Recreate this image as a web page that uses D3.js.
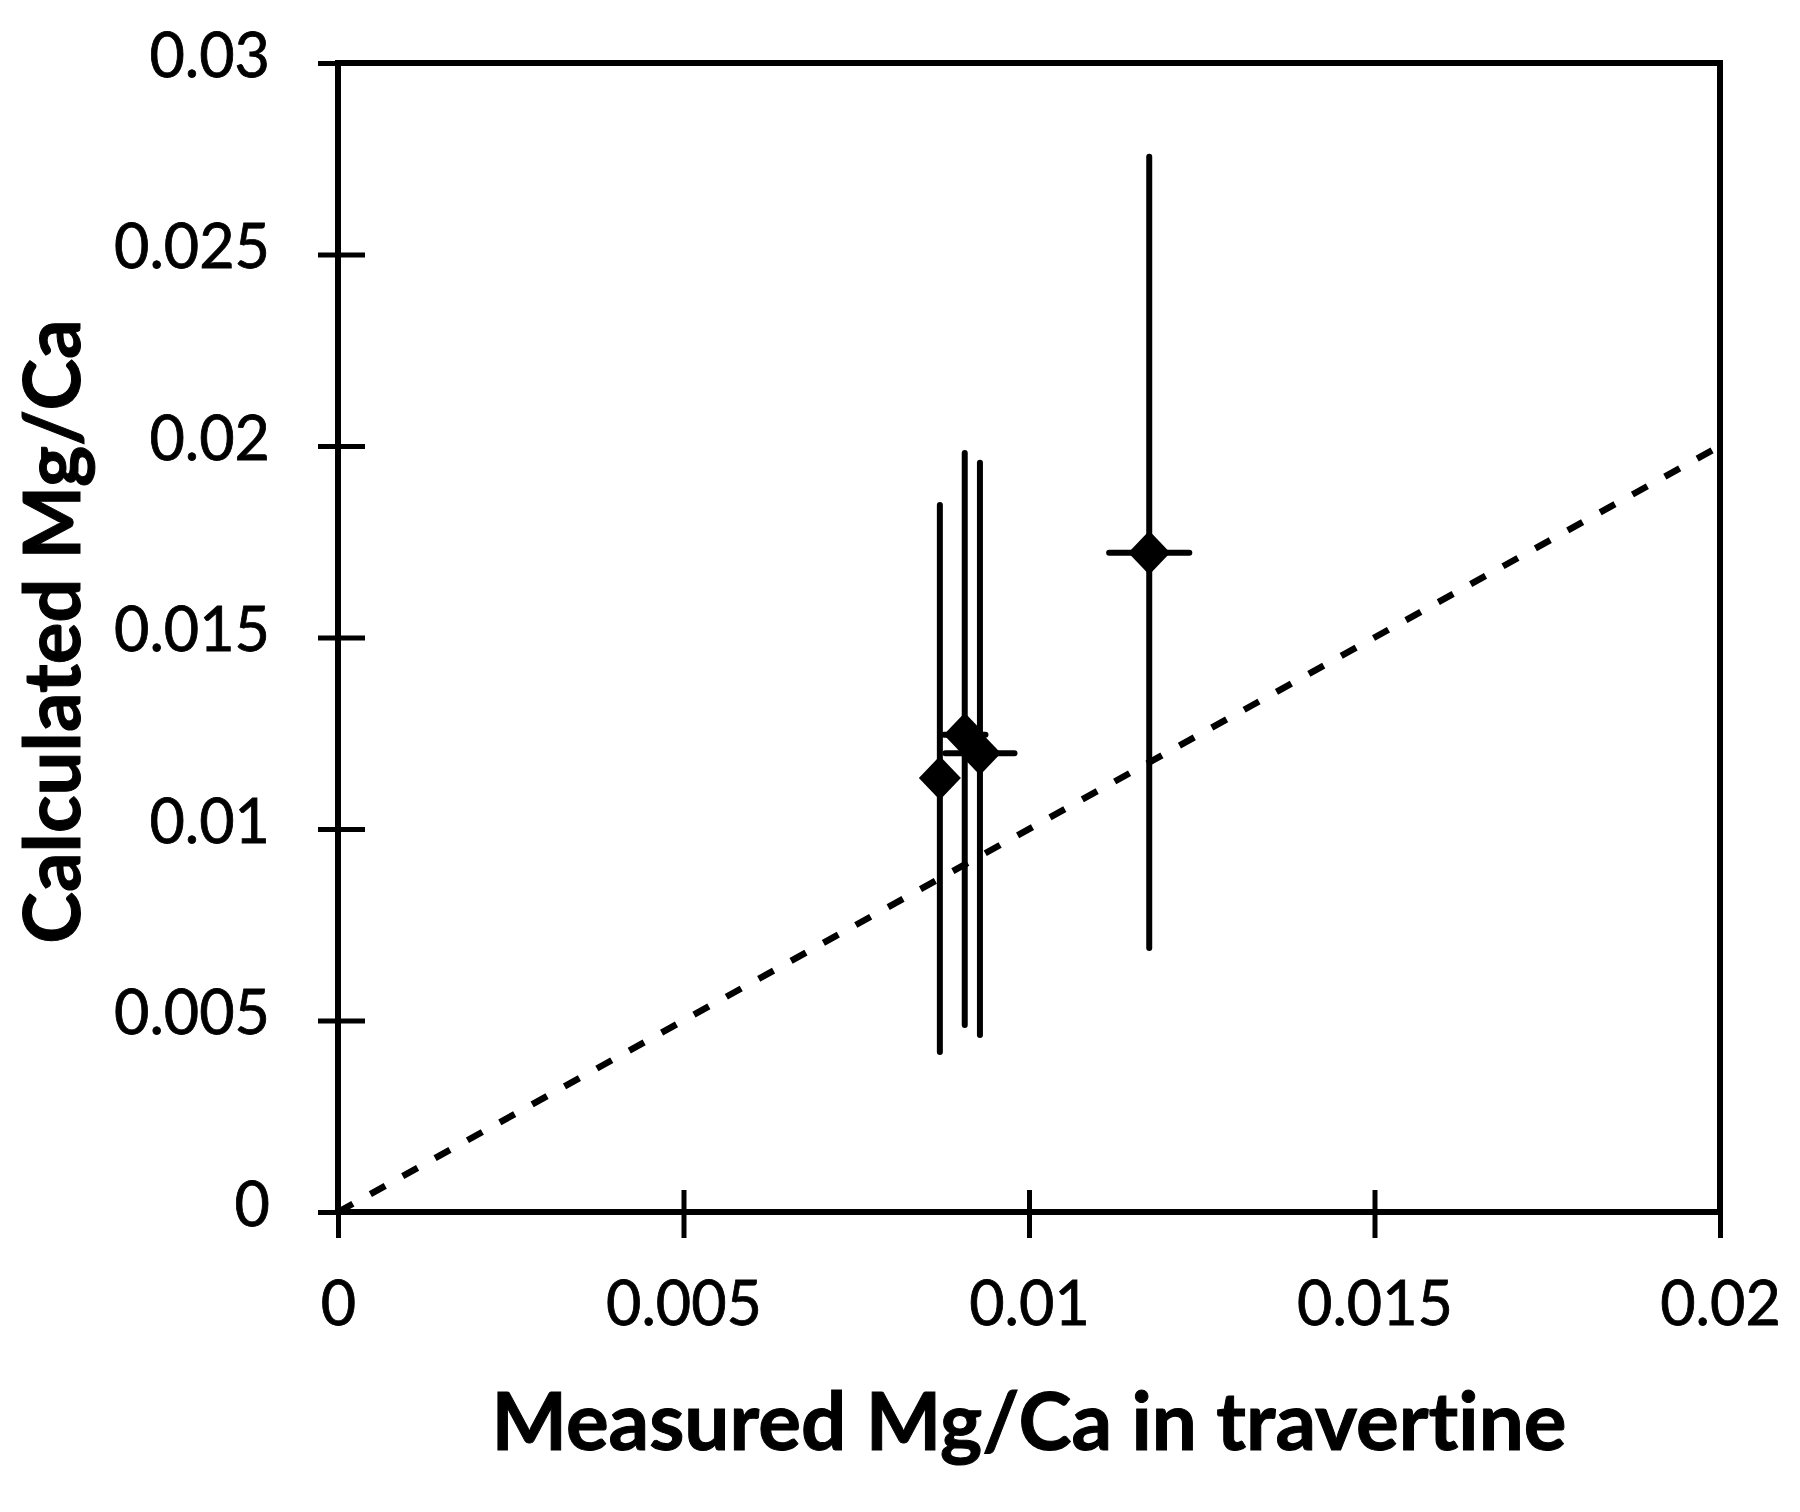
<!DOCTYPE html>
<html>
<head>
<meta charset="utf-8">
<script src="https://cdn.jsdelivr.net/npm/d3@7"></script>
<style>
  body { margin: 0; background: #fff; }
  svg { display: block; }
  text { font-family: Lato, "Open Sans", sans-serif; fill: #000; font-variant-ligatures: none; }
</style>
</head>
<body>
<svg id="chart"></svg>
<script>
// measured vs calculated Mg/Ca
const measured = [0.00871, 0.00907, 0.00929, 0.01174]
const calculated = [0.01133, 0.01246, 0.01198, 0.01721]
const calcLow = [0.00418, 0.00488, 0.00462, 0.00689]
const calcHigh = [0.01846, 0.01982, 0.01956, 0.02755]
const measuredErr = [0.0002, 0.0003, 0.0005, 0.00058]

const xTicks = [0, 0.005, 0.01, 0.015, 0.02]
const yTicks = [0, 0.005, 0.01, 0.015, 0.02, 0.025, 0.03]
const oneToOne = [0, 0.02]

const width = 1800, height = 1512
const margin = {top: 63, right: 80, bottom: 300, left: 338}
const w = width - margin.left - margin.right
const h = height - margin.top - margin.bottom

const svg = d3.select('#chart')
    .attr('width', width)
    .attr('height', height)

const g = svg.append('g')
    .attr('transform', `translate(${margin.left},${margin.top})`)

const x = d3.scaleLinear().domain([0, 0.02]).range([0, w])
const y = d3.scaleLinear().domain([0, 0.03]).range([h, 0])

const fmt = d => d === 0 ? '0' : String(+d.toFixed(3))

// axes
const xAxis = g.append('g')
    .attr('transform', `translate(0,${h})`)
    .call(d3.axisBottom(x).tickValues(xTicks).tickFormat(fmt).tickSize(26))
xAxis.select('.domain').remove()
xAxis.selectAll('line')
    .attr('y1', -22)
    .attr('stroke', '#000')
    .attr('stroke-width', 5)
xAxis.selectAll('text')
    .attr('font-size', 61)
    .attr('stroke', '#000')
    .attr('stroke-width', 0.8)
    .attr('dy', 0)
    .attr('y', 113)

const yAxis = g.append('g')
    .call(d3.axisLeft(y).tickValues(yTicks).tickFormat(fmt).tickSize(20))
yAxis.select('.domain').remove()
yAxis.selectAll('line')
    .attr('x1', 27)
    .attr('stroke', '#000')
    .attr('stroke-width', 5)
yAxis.selectAll('text')
    .attr('font-size', 61)
    .attr('stroke', '#000')
    .attr('stroke-width', 0.8)
    .attr('x', -68)
    .attr('dy', '0.22em')

// frame
g.append('rect')
    .attr('x', 0).attr('y', 0)
    .attr('width', w).attr('height', h)
    .attr('fill', 'none')
    .attr('stroke', '#000')
    .attr('stroke-width', 6)

// 1:1 line
g.append('line')
    .attr('x1', x(oneToOne[0])).attr('y1', y(oneToOne[0]))
    .attr('x2', x(oneToOne[1])).attr('y2', y(oneToOne[1]))
    .attr('stroke', '#000')
    .attr('stroke-width', 6.5)
    .attr('stroke-dasharray', '17 20')

const points = measured.map((m, i) => ({
    x: m, y: calculated[i], lo: calcLow[i], hi: calcHigh[i], xe: measuredErr[i]
}))

const marks = g.append('g')

marks.selectAll('line.vbar')
    .data(points)
    .enter()
    .append('line')
    .attr('class', 'vbar')
    .attr('x1', d => x(d.x)).attr('x2', d => x(d.x))
    .attr('y1', d => y(d.lo)).attr('y2', d => y(d.hi))
    .attr('stroke', '#000')
    .attr('stroke-width', 6)
    .attr('stroke-linecap', 'round')

marks.selectAll('line.hbar')
    .data(points)
    .enter()
    .append('line')
    .attr('class', 'hbar')
    .attr('x1', d => x(d.x - d.xe)).attr('x2', d => x(d.x + d.xe))
    .attr('y1', d => y(d.y)).attr('y2', d => y(d.y))
    .attr('stroke', '#000')
    .attr('stroke-width', 6)
    .attr('stroke-linecap', 'round')

const dw = 21, dh = 22
marks.selectAll('path.pt')
    .data(points)
    .enter()
    .append('path')
    .attr('class', 'pt')
    .attr('d', d => {
        const cx = x(d.x), cy = y(d.y)
        return `M${cx},${cy - dh}L${cx + dw},${cy}L${cx},${cy + dh}L${cx - dw},${cy}Z`
    })
    .attr('fill', '#000')

// axis titles
svg.append('text')
    .attr('x', margin.left + w / 2)
    .attr('y', 1450)
    .attr('text-anchor', 'middle')
    .attr('font-size', 80)
    .attr('font-weight', 'bold')
    .attr('stroke', '#000')
    .attr('stroke-width', 1)
    .text('Measured Mg/Ca in travertine')

svg.append('text')
    .attr('transform', `translate(80,${margin.top + h / 2 - 6}) rotate(-90)`)
    .attr('text-anchor', 'middle')
    .attr('font-size', 78)
    .attr('font-weight', 'bold')
    .attr('stroke', '#000')
    .attr('stroke-width', 1)
    .text('Calculated Mg/Ca')
</script>
</body>
</html>
